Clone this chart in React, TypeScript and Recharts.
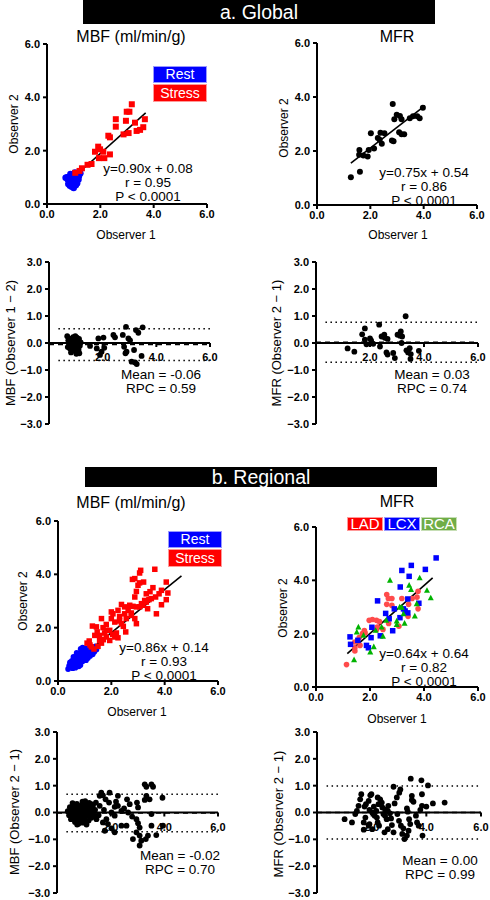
import { ScatterChart, Scatter, XAxis, YAxis, ReferenceLine } from "recharts";

const FONT = '"Liberation Sans", Arial, Helvetica, sans-serif';

type Pair = number[];
const pts = (a: Pair[]) => a.map(([x, y]) => ({ x, y }));

// ---- a. Global ----
const globalMbfRest: Pair[] = [
  [0.70, 0.98], [0.78, 0.92], [0.82, 1.02], [0.85, 0.85], [0.88, 0.78], [0.90, 0.95], [0.92, 1.05],
  [0.95, 0.72], [0.97, 0.88], [1.00, 1.10], [1.02, 0.82], [1.05, 0.95], [1.08, 0.70], [1.10, 1.00],
  [1.12, 0.88], [0.80, 0.75], [0.93, 0.65], [1.00, 0.60], [1.15, 1.12], [1.18, 0.92], [1.20, 1.05],
  [0.88, 1.12], [0.75, 1.00], [1.05, 1.18], [0.98, 0.78], [1.13, 0.78], [0.86, 0.68], [1.25, 1.15],
];
const globalMbfStress: Pair[] = [
  [3.18, 3.74], [2.99, 3.46], [3.09, 3.46], [2.58, 3.18], [2.58, 2.90], [2.96, 3.12], [3.30, 3.05],
  [3.67, 3.18], [3.61, 2.88], [3.36, 2.74], [3.49, 2.78], [3.06, 2.66], [2.87, 2.61], [2.30, 2.56],
  [2.36, 2.50], [1.92, 2.15], [1.99, 2.05], [1.80, 1.96], [2.11, 1.96], [2.36, 1.86], [1.95, 1.72],
  [2.15, 1.72], [1.67, 1.50], [1.52, 1.47], [1.31, 1.34], [1.22, 1.24], [1.06, 1.17],
];
const globalMbfFit: Pair[] = [[0.71, 0.74], [3.70, 3.42]];
const globalMbfStats = ["y=0.90x + 0.08", "r = 0.95", "P < 0.0001"];

const globalMfr: Pair[] = [
  [1.27, 1.03], [1.61, 1.23], [1.59, 2.04], [1.58, 1.86], [1.74, 1.83], [1.90, 1.80], [1.94, 2.04],
  [2.02, 2.66], [2.14, 2.09], [2.28, 2.48], [2.38, 2.68], [2.53, 2.66], [2.43, 2.27], [2.35, 2.42],
  [2.81, 2.39], [2.87, 2.36], [2.84, 3.74], [2.90, 3.18], [2.99, 3.34], [3.11, 3.30], [3.17, 2.62],
  [3.27, 2.62], [3.08, 2.69], [3.17, 3.18], [3.48, 3.21], [3.60, 3.29], [3.76, 3.29], [3.85, 3.21],
  [3.97, 3.60],
];
const globalMfrFit: Pair[] = [[1.27, 1.55], [4.05, 3.68]];
const globalMfrStats = ["y=0.75x + 0.54", "r = 0.86", "P < 0.0001"];

const globalMbfDiff: Pair[] = [
  [0.68, 0.25], [0.72, 0.10], [0.75, -0.05], [0.78, -0.20], [0.80, 0.15], [0.82, -0.35], [0.85, 0.05],
  [0.87, -0.12], [0.90, 0.22], [0.92, -0.28], [0.95, 0.00], [0.97, 0.12], [1.00, -0.18], [1.02, -0.40],
  [1.04, 0.20], [1.06, -0.06], [1.08, 0.08], [1.10, -0.25], [1.12, 0.15], [1.15, -0.10], [0.88, -0.22],
  [0.98, 0.25], [1.05, -0.32], [0.70, -0.15], [0.93, 0.08], [1.18, 0.02], [0.84, -0.02], [1.13, -0.38],
  [1.53, -0.11], [1.78, -0.20], [1.84, 0.17], [2.03, 0.20], [1.90, -0.44], [1.96, -0.32], [2.06, -0.18],
  [2.40, 0.30], [2.46, 0.21], [2.75, 0.30], [2.87, 0.60], [2.96, 0.17], [2.80, -0.14], [2.89, -0.32],
  [2.85, -0.38], [3.02, 0.10], [3.17, -0.26], [3.08, -0.69], [3.27, -0.78], [3.21, -0.72], [3.24, 0.48],
  [3.33, 0.38], [3.49, 0.58], [3.45, -0.48],
];
const globalMbfBA = [-0.06, 0.59]; // mean, RPC

const globalMfrDiff: Pair[] = [
  [1.17, -0.20], [1.42, -0.32], [1.71, 0.32], [1.81, 0.54], [1.81, 0.12], [1.87, -0.05], [2.00, 0.17],
  [2.04, 0.10], [2.12, -0.03], [2.34, 0.68], [2.37, -0.13], [2.43, 0.24], [2.53, 0.31], [2.55, 0.19],
  [2.65, 0.15], [2.61, -0.35], [2.65, -0.43], [2.86, -0.37], [2.92, -0.56], [3.02, 0.31], [3.11, 0.27],
  [3.14, 0.43], [3.19, 0.24], [3.17, 0.00], [3.32, 0.99], [3.35, -0.27], [3.41, -0.35], [3.47, -0.19],
  [3.50, -0.59], [3.51, -0.41], [3.81, -0.29],
];
const globalMfrBA = [0.03, 0.74];

// ---- b. Regional ----
const regMbfRest: Pair[] = [
  [0.38, 0.45], [0.42, 0.58], [0.45, 0.70], [0.48, 0.52], [0.50, 0.62], [0.52, 0.75], [0.55, 0.48],
  [0.57, 0.66], [0.60, 0.80], [0.62, 0.58], [0.64, 0.70], [0.66, 0.88], [0.68, 0.62], [0.70, 0.76],
  [0.72, 0.95], [0.74, 0.68], [0.76, 0.84], [0.78, 1.02], [0.80, 0.72], [0.82, 0.90], [0.84, 0.60],
  [0.86, 0.80], [0.88, 1.05], [0.90, 0.94], [0.92, 0.74], [0.94, 0.86], [0.96, 1.12], [0.98, 0.98],
  [1.00, 0.82], [1.02, 1.06], [1.04, 0.90], [1.06, 1.20], [1.08, 0.96], [1.10, 1.10], [1.12, 0.86],
  [1.14, 1.02], [1.16, 1.24], [1.18, 1.12], [1.20, 0.94], [1.22, 1.06], [1.25, 1.28], [1.28, 1.16],
  [1.30, 1.00], [1.33, 1.22], [1.36, 1.10], [1.40, 1.30], [1.44, 1.18], [0.58, 0.90], [0.70, 1.05],
  [0.85, 1.20], [0.65, 0.50], [0.92, 1.25], [1.00, 1.22], [0.78, 0.55], [1.05, 0.78],
];
const regMbfStress: Pair[] = [
  [3.63, 4.19], [3.10, 4.15], [3.06, 4.05], [2.79, 3.81], [2.88, 3.84], [3.00, 3.59], [3.06, 3.68],
  [3.21, 3.71], [3.56, 3.50], [4.06, 3.71], [4.12, 3.30], [3.79, 3.27], [3.66, 3.15], [3.50, 3.09],
  [3.41, 3.05], [2.88, 3.15], [3.25, 3.02], [3.31, 2.96], [3.13, 2.90], [3.19, 2.84], [3.06, 2.78],
  [2.94, 2.78], [2.69, 2.84], [2.81, 2.80], [2.50, 2.78], [2.38, 2.87], [2.63, 2.65], [2.75, 2.55],
  [2.50, 2.52], [2.31, 2.42], [2.31, 2.25], [2.06, 2.52], [2.00, 2.34], [2.13, 2.21], [2.56, 2.34],
  [2.54, 1.84], [2.19, 1.80], [2.13, 1.65], [2.25, 1.62], [1.81, 2.12], [1.81, 1.90], [1.69, 2.00],
  [1.75, 1.80], [1.94, 1.90], [1.63, 2.34], [2.00, 2.59], [1.44, 2.03], [1.29, 2.06], [1.47, 1.84],
  [1.56, 1.71], [1.56, 1.52], [1.38, 1.71], [1.17, 1.50], [1.09, 1.42], [1.25, 1.28], [1.63, 1.42],
  [1.81, 1.65], [1.94, 1.52], [4.06, 3.05], [3.88, 2.86], [3.69, 2.52], [3.88, 3.40], [2.75, 2.46],
  [2.88, 2.34], [2.94, 2.15], [2.38, 2.15], [2.25, 2.65], [3.31, 3.27], [2.94, 3.36], [3.36, 2.71],
  [1.35, 1.20], [1.20, 1.35], [1.50, 1.30], [2.05, 1.75], [2.45, 2.05], [3.45, 3.35], [1.70, 1.55],
];
const regMbfFit: Pair[] = [[0.73, 0.78], [4.63, 3.94]];
const regMbfStats = ["y=0.86x + 0.14", "r = 0.93", "P < 0.0001"];

const regMfrLad: Pair[] = [
  [1.13, 0.84], [1.44, 1.35], [1.44, 1.47], [1.63, 1.56], [1.79, 2.12], [1.72, 2.00], [1.82, 2.03],
  [1.97, 2.50], [2.09, 2.53], [2.24, 2.50], [2.27, 2.25], [2.48, 2.16], [2.62, 3.47], [2.68, 3.32],
  [2.81, 3.32], [2.62, 3.10], [2.81, 3.06], [3.18, 3.32], [3.43, 3.10], [3.56, 3.32], [3.74, 3.37],
  [3.78, 3.59], [3.78, 2.93], [3.41, 2.65], [2.69, 2.38], [2.24, 2.15], [1.44, 1.69], [3.07, 2.28],
  [2.35, 2.45], [1.60, 1.85],
];
const regMfrLcx: Pair[] = [
  [4.45, 4.84], [4.05, 4.41], [3.53, 4.56], [3.18, 4.37], [3.45, 4.15], [3.12, 3.75], [2.28, 3.23],
  [3.40, 3.30], [3.81, 3.14], [3.24, 2.93], [3.30, 2.85], [2.90, 2.93], [2.58, 2.76], [2.71, 2.56],
  [3.11, 2.60], [2.84, 2.11], [2.07, 2.24], [2.38, 1.92], [1.26, 1.88], [1.55, 1.75], [1.28, 1.60],
  [1.87, 1.56], [1.94, 1.47], [2.04, 1.85], [3.40, 2.78],
];
const regMfrRca: Pair[] = [
  [2.74, 4.00], [3.84, 4.09], [3.45, 3.81], [3.52, 3.65], [4.11, 3.62], [4.25, 3.34], [3.73, 3.12],
  [3.18, 2.99], [3.24, 2.74], [3.66, 2.66], [2.99, 2.47], [3.28, 2.39], [2.99, 2.34], [2.43, 2.25],
  [2.48, 1.90], [2.14, 1.51], [2.01, 1.31], [1.57, 2.25], [1.51, 2.06], [1.76, 1.94], [1.41, 1.02],
  [2.21, 2.12], [2.60, 2.50], [3.10, 3.00],
];
const regMfrFit: Pair[] = [[1.16, 1.25], [4.32, 4.09]];
const regMfrStats = ["y=0.64x + 0.64", "r = 0.82", "P < 0.0001"];

const regMbfDiff: Pair[] = [
  [0.40, 0.05], [0.45, -0.10], [0.48, 0.20], [0.50, 0.00], [0.52, -0.25], [0.55, 0.12], [0.58, -0.05],
  [0.60, 0.28], [0.62, -0.18], [0.65, 0.08], [0.67, -0.35], [0.70, 0.18], [0.72, -0.08], [0.74, 0.32],
  [0.76, -0.22], [0.78, 0.02], [0.80, -0.42], [0.82, 0.15], [0.84, -0.12], [0.86, 0.25], [0.88, -0.30],
  [0.90, 0.05], [0.92, -0.02], [0.94, 0.20], [0.96, -0.38], [0.98, 0.10], [1.00, -0.15], [1.02, 0.30],
  [1.04, -0.25], [1.06, 0.00], [1.08, 0.14], [1.10, -0.45], [1.12, 0.22], [1.14, -0.10], [1.16, 0.06],
  [1.18, -0.30], [1.20, 0.36], [1.22, -0.05], [1.25, 0.18], [1.28, -0.20], [1.30, 0.02], [1.34, 0.26],
  [1.38, -0.12], [1.42, 0.10], [0.68, 0.00], [0.85, -0.05], [0.95, 0.40], [1.05, 0.42], [0.75, -0.45],
  [0.92, -0.20], [1.15, 0.30], [0.58, 0.35],
  [1.65, 0.74], [1.71, 0.64], [1.96, 0.74], [2.27, 0.62], [1.81, 0.49], [1.94, 0.37], [1.45, 0.37],
  [1.59, 0.25], [2.15, 0.21], [2.27, 0.25], [2.61, 0.49], [2.71, 0.31], [2.98, 0.37], [3.02, 0.19],
  [2.65, 0.00], [2.40, 0.06], [2.03, 0.00], [2.15, -0.12], [1.84, -0.25], [1.71, -0.37], [1.90, -0.43],
  [1.78, -0.68], [2.15, -0.74], [2.03, -0.59], [2.40, -0.49], [2.59, -0.49], [2.96, -0.25], [3.02, -0.40],
  [3.08, -0.56], [2.96, -0.74], [3.08, -0.86], [2.83, -0.99], [3.14, -1.05], [3.08, -1.23], [3.31, -0.99],
  [3.39, -0.86], [3.27, 1.05], [3.33, 0.96], [3.58, 0.96], [3.52, 1.05], [3.33, 0.62], [3.45, 0.49],
  [3.27, 0.47], [3.93, 0.55], [3.52, -0.06], [3.70, -0.84], [3.95, -0.49], [3.52, -0.49], [1.28, 0.31],
  [1.34, 0.06], [1.47, -0.25], [1.59, 0.62], [1.55, -0.10], [2.50, 0.15], [2.80, -0.15], [1.75, 0.10],
  [2.20, 0.40],
];
const regMbfBA = [-0.02, 0.70];

const regMfrDiff: Pair[] = [
  [1.01, -0.25], [1.28, -0.37], [1.62, 0.68], [1.58, 0.49], [1.52, 0.25], [1.46, 0.06], [1.40, -0.06],
  [1.71, -0.64], [1.71, -0.37], [1.77, -0.19], [1.79, 0.31], [1.89, 0.43], [1.95, 0.64], [1.99, 0.68],
  [1.92, 0.10], [2.02, 0.00], [2.11, -0.12], [1.74, 0.22], [1.89, -0.49], [1.92, -0.43], [2.02, -0.62],
  [2.19, -0.19], [2.25, 0.31], [2.22, 0.56], [2.31, 0.49], [2.22, -0.37], [2.27, -0.49], [2.37, 0.37],
  [2.39, 0.19], [2.49, 0.12], [2.59, 0.06], [2.61, 0.25], [2.43, -0.06], [2.49, -0.12], [2.55, -0.25],
  [2.67, -0.03], [2.71, -0.22], [2.47, -0.74], [2.59, -0.62], [2.74, -0.47], [2.80, -0.74], [2.80, 0.96],
  [2.84, 0.34], [2.92, 0.56], [3.01, 0.74], [3.05, 0.86], [2.94, -0.06], [3.00, -0.31], [3.07, -0.49],
  [3.16, -0.59], [3.12, -0.80], [3.20, -0.99], [3.29, -0.86], [3.35, -0.68], [3.29, 0.15], [3.32, 0.03],
  [3.37, -0.25], [3.41, -0.43], [3.43, 1.26], [3.47, 0.62], [3.53, 0.40], [3.47, 0.47], [3.62, -0.12],
  [3.66, -0.37], [3.72, -0.49], [3.82, 1.20], [3.84, 0.68], [3.84, 0.25], [3.78, 0.10], [3.86, -0.86],
  [4.00, 0.22], [4.06, 1.01], [4.24, 0.34], [4.67, 0.37], [2.08, 0.22], [2.17, 0.06],
];
const regMfrBA = [0.0, 0.99];

const scatterTicks = [0, 2, 4, 6];
const diffTicks = [-3, -2, -1, 0, 1, 2, 3];

const fmt = (v: number) => (v < 0 ? "\u2212" + Math.abs(v).toFixed(1) : v.toFixed(1));
const axisLine = { stroke: "#000", strokeWidth: 2 };
const tickText = { fontSize: 11, fontWeight: 700, fill: "#000" };

// marker shapes with fixed pixel sizes
const dot = (r: number, c: string) => (p: any) => <circle cx={p.cx} cy={p.cy} r={r} fill={c} />;
const square = (s: number, c: string) => (p: any) => (
  <rect x={p.cx - s / 2} y={p.cy - s / 2} width={s} height={s} fill={c} />
);
const triangle = (s: number, c: string) => (p: any) => (
  <polygon
    points={`${p.cx},${p.cy - s * 0.55} ${p.cx - s / 2},${p.cy + s * 0.4} ${p.cx + s / 2},${p.cy + s * 0.4}`}
    fill={c}
  />
);
// x tick drawn on the zero line of a difference plot
const zeroTick = (t: number) => (p: any) => (
  <g>
    <line x1={p.cx} y1={p.cy} x2={p.cx} y2={p.cy + 4} stroke="#000" strokeWidth={2} />
    {t > 0 && (
      <text x={p.cx} y={p.cy + 18} textAnchor="middle" {...tickText}>
        {fmt(t)}
      </text>
    )}
  </g>
);

type Box = { left: number; top: number; w: number; h: number };
type Series = { data: Pair[]; shape: any };

const ML = 36;
const MT = 8;
const MR = 14;
const XH = 22;

function ScatterPanel({ box, series, fit }: { box: Box; series: Series[]; fit: Pair[] }) {
  return (
    <div style={{ position: "absolute", left: box.left - ML, top: box.top - MT }}>
      <ScatterChart
        width={box.w + ML + MR}
        height={box.h + MT + XH}
        margin={{ top: MT, right: MR, bottom: 0, left: 0 }}
      >
        <XAxis
          type="number"
          dataKey="x"
          domain={[0, 6]}
          ticks={scatterTicks}
          tickFormatter={fmt}
          height={XH}
          axisLine={axisLine}
          tickLine={axisLine}
          tickSize={4}
          tickMargin={2}
          tick={tickText}
        />
        <YAxis
          type="number"
          dataKey="y"
          domain={[0, 6]}
          ticks={scatterTicks}
          tickFormatter={fmt}
          width={ML}
          axisLine={axisLine}
          tickLine={axisLine}
          tickSize={4}
          tickMargin={3}
          tick={tickText}
        />
        {series.map((s, i) => (
          <Scatter key={i} data={pts(s.data)} shape={s.shape} isAnimationActive={false} />
        ))}
        <ReferenceLine segment={pts(fit)} stroke="#000" strokeWidth={1.6} />
      </ScatterChart>
    </div>
  );
}

function DiffPanel({ box, data, ba }: { box: Box; data: Pair[]; ba: number[] }) {
  const [mean, rpc] = ba;
  const limStart = 0.35;
  return (
    <div style={{ position: "absolute", left: box.left - ML, top: box.top - MT }}>
      <ScatterChart
        width={box.w + ML + MR}
        height={box.h + MT + MT}
        margin={{ top: MT, right: MR, bottom: MT, left: 0 }}
      >
        <XAxis type="number" dataKey="x" domain={[0, 6]} hide />
        <YAxis
          type="number"
          dataKey="y"
          domain={[-3, 3]}
          ticks={diffTicks}
          tickFormatter={fmt}
          width={ML}
          axisLine={axisLine}
          tickLine={axisLine}
          tickSize={4}
          tickMargin={3}
          tick={tickText}
        />
        <ReferenceLine
          segment={[{ x: limStart, y: mean + rpc }, { x: 6, y: mean + rpc }]}
          stroke="#000"
          strokeWidth={1.5}
          strokeDasharray="1.5 3.5"
        />
        <ReferenceLine
          segment={[{ x: limStart, y: mean - rpc }, { x: 6, y: mean - rpc }]}
          stroke="#000"
          strokeWidth={1.5}
          strokeDasharray="1.5 3.5"
        />
        <ReferenceLine y={0} stroke="#000" strokeWidth={2} />
        <ReferenceLine y={mean} stroke="#000" strokeWidth={1.5} strokeDasharray="5 4" />
        <Scatter data={pts(data)} shape={dot(2.9, "#000")} isAnimationActive={false} />
        {scatterTicks.map((t) => (
          <Scatter key={t} data={[{ x: t, y: 0 }]} shape={zeroTick(t)} isAnimationActive={false} />
        ))}
      </ScatterChart>
    </div>
  );
}

function Txt({ cx, cy, size, rotate, children }: any) {
  return (
    <div
      style={{
        position: "absolute",
        left: cx,
        top: cy,
        transform: `translate(-50%, -50%)${rotate ? " rotate(-90deg)" : ""}`,
        fontSize: size,
        whiteSpace: "nowrap",
        lineHeight: 1,
      }}
    >
      {children}
    </div>
  );
}

// stacked annotation lines, tightly spaced as in the figure
function Stats({ cx, top, lines }: { cx: number; top: number; lines: string[] }) {
  return (
    <div
      style={{
        position: "absolute",
        left: cx,
        top,
        transform: "translateX(-50%)",
        fontSize: 13.5,
        lineHeight: "14px",
        textAlign: "center",
        whiteSpace: "nowrap",
      }}
    >
      {lines.map((l, i) => (
        <div key={i}>{l}</div>
      ))}
    </div>
  );
}

function Tag({ left, top, w, h, bg, size, children }: any) {
  return (
    <div
      style={{
        position: "absolute",
        left,
        top,
        width: w,
        height: h,
        background: bg,
        color: "#fff",
        fontSize: size,
        lineHeight: h - 2 + "px",
        textAlign: "center",
        boxSizing: "border-box",
        border: "1px solid rgba(255,255,255,0.6)",
      }}
    >
      {children}
    </div>
  );
}

function Banner({ left, top, w, h, children }: any) {
  return (
    <div
      style={{
        position: "absolute",
        left,
        top,
        width: w,
        height: h,
        background: "#000",
        color: "#fff",
        fontSize: 19.5,
        lineHeight: h + "px",
        textAlign: "center",
      }}
    >
      {children}
    </div>
  );
}

const baLines = (ba: number[]) => ["Mean = " + ba[0].toFixed(2), "RPC = " + ba[1].toFixed(2)];

export default function App() {
  return (
    <div
      style={{
        position: "absolute",
        left: 0,
        top: 0,
        width: 490,
        height: 900,
        background: "#fff",
        fontFamily: FONT,
        color: "#000",
        overflow: "hidden",
      }}
    >
      {/* a. Global */}
      <Banner left={83} top={0} w={352} h={24}>a. Global</Banner>
      <Txt cx={131} cy={37} size={16}>MBF (ml/min/g)</Txt>
      <Txt cx={397} cy={37} size={16}>MFR</Txt>

      <ScatterPanel
        box={{ left: 47, top: 44, w: 160, h: 160 }}
        series={[
          { data: globalMbfRest, shape: dot(3.3, "#0000ff") },
          { data: globalMbfStress, shape: square(6, "#ff0000") },
        ]}
        fit={globalMbfFit}
      />
      <Tag left={153} top={66} w={54} h={17} bg="#0000ff" size={14}>Rest</Tag>
      <Tag left={153} top={84} w={54} h={18} bg="#ff0000" size={14}>Stress</Tag>
      <Stats cx={148} top={162} lines={globalMbfStats} />
      <Txt cx={13.5} cy={124} size={12} rotate>Observer 2</Txt>
      <Txt cx={126} cy={235} size={12}>Observer 1</Txt>

      <ScatterPanel
        box={{ left: 317, top: 43, w: 160, h: 162 }}
        series={[{ data: globalMfr, shape: dot(3, "#000") }]}
        fit={globalMfrFit}
      />
      <Stats cx={424} top={166} lines={globalMfrStats} />
      <Txt cx={283.5} cy={128} size={12} rotate>Observer 2</Txt>
      <Txt cx={398} cy={235} size={12}>Observer 1</Txt>

      <DiffPanel box={{ left: 49, top: 262, w: 161, h: 162 }} data={globalMbfDiff} ba={globalMbfBA} />
      <Stats cx={161} top={368} lines={baLines(globalMbfBA)} />
      <Txt cx={9.5} cy={343} size={13} rotate>MBF (Observer 1 − 2)</Txt>

      <DiffPanel box={{ left: 316, top: 262, w: 162, h: 162 }} data={globalMfrDiff} ba={globalMfrBA} />
      <Stats cx={432} top={368} lines={baLines(globalMfrBA)} />
      <Txt cx={276} cy={343} size={13} rotate>MFR (Observer 2 − 1)</Txt>

      {/* b. Regional */}
      <Banner left={85} top={467} w={352} h={20}>b. Regional</Banner>
      <Txt cx={131} cy={503} size={16}>MBF (ml/min/g)</Txt>
      <Txt cx={397} cy={502} size={16}>MFR</Txt>

      <ScatterPanel
        box={{ left: 58, top: 521, w: 160, h: 160 }}
        series={[
          { data: regMbfRest, shape: dot(2.9, "#0000ff") },
          { data: regMbfStress, shape: square(5.5, "#ff0000") },
        ]}
        fit={regMbfFit}
      />
      <Tag left={168} top={531} w={54} h={17} bg="#0000ff" size={14}>Rest</Tag>
      <Tag left={168} top={549} w={54} h={18} bg="#ff0000" size={14}>Stress</Tag>
      <Stats cx={164} top={641} lines={regMbfStats} />
      <Txt cx={22.5} cy={601} size={12} rotate>Observer 2</Txt>
      <Txt cx={137} cy={712} size={12}>Observer 1</Txt>

      <ScatterPanel
        box={{ left: 316, top: 527, w: 162, h: 160 }}
        series={[
          { data: regMfrLad, shape: dot(2.8, "#ff4b4b") },
          { data: regMfrLcx, shape: square(5.5, "#0000ff") },
          { data: regMfrRca, shape: triangle(6, "#00b300") },
        ]}
        fit={regMfrFit}
      />
      <Tag left={347} top={517} w={36} h={14} bg="#ff0000" size={15}>LAD</Tag>
      <Tag left={384} top={517} w={36} h={14} bg="#0000ff" size={15}>LCX</Tag>
      <Tag left={421} top={517} w={36} h={14} bg="#70ad47" size={15}>RCA</Tag>
      <Stats cx={424} top={647} lines={regMfrStats} />
      <Txt cx={283} cy={608} size={12} rotate>Observer 2</Txt>
      <Txt cx={397} cy={719} size={12}>Observer 1</Txt>

      <DiffPanel box={{ left: 57, top: 732, w: 161, h: 161 }} data={regMbfDiff} ba={regMbfBA} />
      <Stats cx={180} top={849} lines={baLines(regMbfBA)} />
      <Txt cx={13.5} cy={812} size={13} rotate>MBF (Observer 2 − 1)</Txt>

      <DiffPanel box={{ left: 317, top: 732, w: 164, h: 161 }} data={regMfrDiff} ba={regMfrBA} />
      <Stats cx={440} top={854} lines={baLines(regMfrBA)} />
      <Txt cx={278} cy={814} size={13} rotate>MFR (Observer 2 − 1)</Txt>
    </div>
  );
}
